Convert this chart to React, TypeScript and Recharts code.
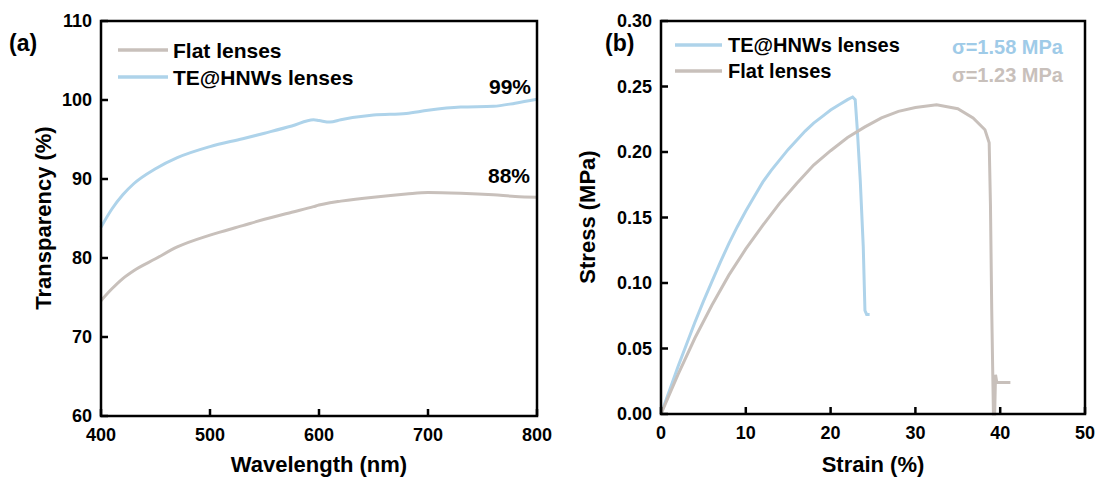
import { LineChart, Line, XAxis, YAxis } from "recharts";

// (a) transmittance spectra
const wavelength = [400, 410, 420, 430, 450, 470, 500, 530, 550, 575, 595, 600, 610, 620, 650, 680, 700, 730, 760, 780, 800];
const flatTransparency = [74.6, 76.1, 77.4, 78.4, 79.9, 81.4, 82.9, 84.1, 84.9, 85.8, 86.5, 86.7, 87.0, 87.2, 87.7, 88.1, 88.3, 88.2, 88.0, 87.8, 87.7];
const teTransparency = [83.9, 86.2, 88.0, 89.4, 91.3, 92.7, 94.1, 95.1, 95.8, 96.7, 97.5, 97.4, 97.2, 97.5, 98.1, 98.3, 98.7, 99.1, 99.2, 99.6, 100.1];
const wavelengthTicks = [400, 500, 600, 700, 800];
const transparencyTicks = [60, 70, 80, 90, 100, 110];

// (b) stress-strain curves
const teStrain = [0, 1, 2, 3, 4, 5, 6, 7, 8, 9, 10, 11, 12, 13, 14, 15, 16, 17, 18, 19, 20, 21, 22, 22.6, 22.9, 23.15, 23.5, 23.85, 24.05, 24.25, 24.6];
const teStress = [0, 0.018, 0.036, 0.053, 0.07, 0.086, 0.101, 0.116, 0.13, 0.143, 0.155, 0.166, 0.177, 0.186, 0.194, 0.202, 0.209, 0.216, 0.222, 0.227, 0.232, 0.236, 0.24, 0.242, 0.24, 0.217, 0.178, 0.128, 0.079, 0.076, 0.076];
const flatStrain = [0, 2, 4, 6, 8, 10, 12, 14, 16, 18, 20, 22, 24, 26, 28, 30, 32.5, 35, 36.8, 38.2, 38.7, 38.85, 39.0, 39.2, 39.35, 39.45, 39.6, 41.2];
const flatStress = [0, 0.03, 0.058, 0.083, 0.106, 0.126, 0.144, 0.161, 0.176, 0.19, 0.201, 0.211, 0.219, 0.226, 0.231, 0.234, 0.236, 0.233, 0.226, 0.217, 0.207, 0.16, 0.08, 0, 0, 0.03, 0.024, 0.024];
const strainTicks = [0, 10, 20, 30, 40, 50];
const stressTicks = [0, 0.05, 0.1, 0.15, 0.2, 0.25, 0.3];

const BLUE = "#aed3ea";
const GRAY = "#c8c0bb";
const INK = "#000";
const FONT = "'Liberation Sans', Arial, sans-serif";
const TICK_LEN = 7;
const AXIS_W = 2.5;

const spectra = wavelength.map((x, i) => ({ x, flat: flatTransparency[i], te: teTransparency[i] }));
const teCurve = teStrain.map((x, i) => ({ x, y: teStress[i] }));
const flatCurve = flatStrain.map((x, i) => ({ x, y: flatStress[i] }));

const tickFont = { fill: INK, fontSize: 18, fontWeight: 700, fontFamily: FONT };

function BottomTick(props: any) {
  const { x, y, payload } = props;
  return <text x={x} y={y + 25} textAnchor="middle" {...tickFont}>{payload.value}</text>;
}

function LeftTick(props: any) {
  const { x, y, payload, digits } = props;
  const label = digits ? Number(payload.value).toFixed(digits) : payload.value;
  return <text x={x - 9} y={y + 6.4} textAnchor="end" {...tickFont}>{label}</text>;
}

// plot box with inward ticks, drawn over the chart so it sits on top of the curves
function Frame(p: { l: number; t: number; r: number; b: number; xd: number[]; yd: number[]; xt: number[]; yt: number[] }) {
  const sx = (v: number) => p.l + ((v - p.xd[0]) / (p.xd[1] - p.xd[0])) * (p.r - p.l);
  const sy = (v: number) => p.b - ((v - p.yd[0]) / (p.yd[1] - p.yd[0])) * (p.b - p.t);
  return (
    <g stroke={INK} strokeWidth={AXIS_W} fill="none">
      <rect x={p.l} y={p.t} width={p.r - p.l} height={p.b - p.t} />
      {p.xt.map((v) => <line key={"x" + v} x1={sx(v)} y1={p.b} x2={sx(v)} y2={p.b - TICK_LEN} />)}
      {p.yt.map((v) => <line key={"y" + v} x1={p.l} y1={sy(v)} x2={p.l + TICK_LEN} y2={sy(v)} />)}
    </g>
  );
}

function Overlay() {
  const t = { fontFamily: FONT, fontWeight: 700 } as const;
  return (
    <svg width={1103} height={479} style={{ position: "absolute", left: 0, top: 0, pointerEvents: "none" }}>
      <Frame l={101} t={21} r={537} b={416} xd={[400, 800]} yd={[60, 110]} xt={wavelengthTicks} yt={transparencyTicks} />
      <Frame l={661} t={21} r={1085} b={414} xd={[0, 50]} yd={[0, 0.3]} xt={strainTicks} yt={stressTicks} />

      <text x={9} y={51} fontSize={23} {...t}>(a)</text>
      <text x={605} y={51} fontSize={23} {...t}>(b)</text>

      <line x1={118} y1={50} x2={168} y2={50} stroke={GRAY} strokeWidth={3.5} />
      <text x={173} y={57.5} fontSize={21} {...t}>Flat lenses</text>
      <line x1={118} y1={77} x2={168} y2={77} stroke={BLUE} strokeWidth={3.5} />
      <text x={173} y={84.5} fontSize={21} {...t}>TE@HNWs lenses</text>
      <text x={531} y={93.5} fontSize={21} textAnchor="end" {...t}>99%</text>
      <text x={530} y={182.5} fontSize={21} textAnchor="end" {...t}>88%</text>

      <line x1={675} y1={45} x2={722} y2={45} stroke={BLUE} strokeWidth={3.5} />
      <text x={728} y={52} fontSize={20} {...t}>TE@HNWs lenses</text>
      <line x1={675} y1={71} x2={722} y2={71} stroke={GRAY} strokeWidth={3.5} />
      <text x={728} y={78} fontSize={20} {...t}>Flat lenses</text>
      <text x={952} y={54} fontSize={20} fill="#9fcbe8" {...t}>σ=1.58 MPa</text>
      <text x={952} y={82} fontSize={20} fill={GRAY} {...t}>σ=1.23 MPa</text>

      <text x={319} y={472} fontSize={22} textAnchor="middle" {...t}>Wavelength (nm)</text>
      <text x={873} y={472} fontSize={22} textAnchor="middle" {...t}>Strain (%)</text>
      <text transform="translate(51,218) rotate(-90)" fontSize={22} textAnchor="middle" {...t}>Transparency (%)</text>
      <text transform="translate(595,217) rotate(-90)" fontSize={22} textAnchor="middle" {...t}>Stress (MPa)</text>
    </svg>
  );
}

export default function App() {
  return (
    <div style={{ position: "absolute", left: 0, top: 0, width: 1103, height: 479, background: "#fff" }}>
      <div style={{ position: "absolute", left: 0, top: 0 }}>
        <LineChart width={560} height={479} data={spectra} margin={{ top: 21, right: 23, bottom: 0, left: 0 }}>
          <XAxis dataKey="x" type="number" domain={[400, 800]} ticks={wavelengthTicks}
            height={63} tickSize={0} tickMargin={0} axisLine={false} tickLine={false} tick={(p: any) => <BottomTick {...p} />} />
          <YAxis type="number" domain={[60, 110]} ticks={transparencyTicks}
            width={101} tickSize={0} tickMargin={0} axisLine={false} tickLine={false} tick={(p: any) => <LeftTick {...p} />} />
          <Line dataKey="flat" type="monotone" stroke={GRAY} strokeWidth={3} dot={false} isAnimationActive={false} />
          <Line dataKey="te" type="monotone" stroke={BLUE} strokeWidth={3} dot={false} isAnimationActive={false} />
        </LineChart>
      </div>
      <div style={{ position: "absolute", left: 560, top: 0 }}>
        <LineChart width={543} height={479} data={flatCurve} margin={{ top: 21, right: 18, bottom: 0, left: 0 }}>
          <XAxis dataKey="x" type="number" domain={[0, 50]} ticks={strainTicks}
            height={65} tickSize={0} tickMargin={0} axisLine={false} tickLine={false} tick={(p: any) => <BottomTick {...p} />} />
          <YAxis type="number" domain={[0, 0.3]} ticks={stressTicks}
            width={101} tickSize={0} tickMargin={0} axisLine={false} tickLine={false} tick={(p: any) => <LeftTick {...p} digits={2} />} />
          <Line data={teCurve} dataKey="y" type="linear" stroke={BLUE} strokeWidth={3} dot={false} isAnimationActive={false} />
          <Line dataKey="y" type="linear" stroke={GRAY} strokeWidth={3} dot={false} isAnimationActive={false} />
        </LineChart>
      </div>
      <Overlay />
    </div>
  );
}
